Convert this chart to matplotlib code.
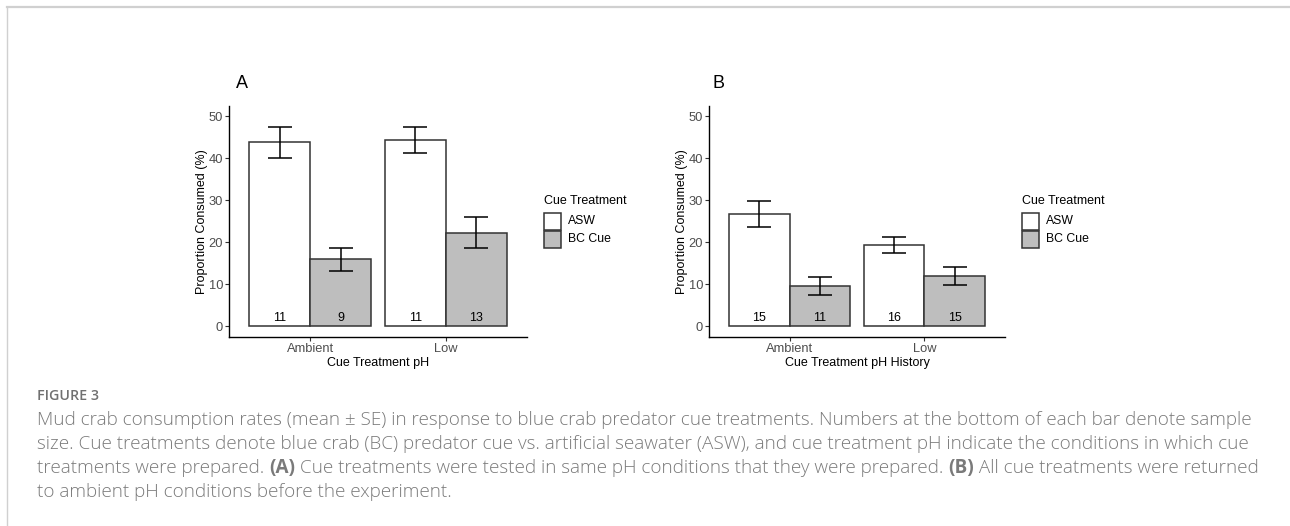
import matplotlib
matplotlib.use("Agg")
import matplotlib.pyplot as plt
from matplotlib.patches import Rectangle
from matplotlib.lines import Line2D
import numpy as np

# data
groups = ["Ambient", "Low"]
treatments = ["ASW", "BC Cue"]
colors = ["white", "#BEBEBE"]

mean_a = [[43.8, 44.3], [15.9, 22.2]]
se_a = [[3.7, 3.2], [2.8, 3.7]]
n_a = [[11, 11], [9, 13]]

mean_b = [[26.6, 19.4], [9.6, 12.0]]
se_b = [[3.1, 1.9], [2.1, 2.1]]
n_b = [[15, 16], [11, 15]]

W, H = 1290, 526
fig = plt.figure(figsize=(W / 100, H / 100), dpi=100)
plt.rcParams['font.family'] = ['Liberation Sans', 'DejaVu Sans']


def px_axes(x0, y0, x1, y1):
    return fig.add_axes([x0 / W, 1 - y1 / H, (x1 - x0) / W, (y1 - y0) / H])


def panel(ax, means, ses, ns, xlabel):
    x = np.arange(1, len(groups) + 1)
    bw = 0.45
    for i, t in enumerate(treatments):
        xs = x + (i - 0.5) * bw
        ax.bar(xs, means[i], width=bw, color=colors[i], edgecolor="#333333",
               linewidth=1.1, zorder=2)
        ax.errorbar(xs, means[i], yerr=ses[i], fmt="none", ecolor="black",
                    elinewidth=1.1, capsize=8.5, capthick=1.1, zorder=3)
        for xx, nn in zip(xs, ns[i]):
            ax.text(xx, 1.9, str(nn), ha="center", va="center", fontsize=9,
                    color="black", zorder=4)
    ax.set_xlim(0.4, 2.6)
    ax.set_ylim(-2.6, 52.4)
    ax.set_yticks([0, 10, 20, 30, 40, 50])
    ax.set_xticks(x)
    ax.set_xticklabels(groups)
    for s in ["top", "right"]:
        ax.spines[s].set_visible(False)
    for s in ["left", "bottom"]:
        ax.spines[s].set_linewidth(1.0)
        ax.spines[s].set_color("black")
    ax.tick_params(axis="both", length=3, width=0.8, color="#333333",
                   labelsize=9.3, labelcolor="#4D4D4D", pad=1.2)
    ax.set_ylabel("Proportion Consumed (%)", fontsize=9, color="black", labelpad=0.3)
    ax.set_xlabel(xlabel, fontsize=9, color="black", labelpad=1.5)


ax_a = px_axes(229, 106, 527, 337)
panel(ax_a, mean_a, se_a, n_a, "Cue Treatment pH")
ax_b = px_axes(709, 106, 1005, 337)
panel(ax_b, mean_b, se_b, n_b, "Cue Treatment pH History")

fig.text(242 / W, 1 - 83 / H, "A", fontsize=13, ha="center", va="center")
fig.text(718 / W, 1 - 83 / H, "B", fontsize=13, ha="center", va="center")


def legend(lx):
    # ggplot-style legend: title, then stacked 17px keys
    fig.text(lx / W, 1 - 201 / H, "Cue Treatment", fontsize=9, ha="left", va="center")
    for i, (lab, c) in enumerate(zip(treatments, colors)):
        top = 213 + 17.5 * i
        fig.add_artist(Rectangle((lx / W, 1 - (top + 17) / H), 17 / W, 17 / H,
                                 facecolor=c, edgecolor="#333333", lw=1.1,
                                 transform=fig.transFigure))
        fig.text((lx + 24) / W, 1 - (top + 8.5) / H, lab, fontsize=8.8,
                 ha="left", va="center")


legend(544)
legend(1022)

# page frame lines
fig.add_artist(Line2D([7 / W, 1], [1 - 7 / H, 1 - 7 / H], color="#D0D0D0", lw=1.6))
fig.add_artist(Line2D([7 / W, 7 / W], [0, 1 - 7 / H], color="#D0D0D0", lw=1.0))

cap_font = ['Open Sans', 'DejaVu Sans']
cap_color = "#7A7A7A"
cap_size = 13.6
cx = 37
fig.text(cx / W, 1 - 396 / H, "FIGURE 3", fontsize=10.3, color="#707070",
         family=cap_font, weight="semibold", va="center", ha="left")

lines = [
    [("Mud crab consumption rates (mean \u00b1 SE) in response to blue crab predator cue treatments. Numbers at the bottom of each bar denote sample", "light")],
    [("size. Cue treatments denote blue crab (BC) predator cue vs. artificial seawater (ASW), and cue treatment pH indicate the conditions in which cue", "light")],
    [("treatments were prepared. ", "light"), ("(A)", "bold"),
     (" Cue treatments were tested in same pH conditions that they were prepared. ", "light"),
     ("(B)", "bold"), (" All cue treatments were returned", "light")],
    [("to ambient pH conditions before the experiment.", "light")],
]
line_y = [420, 444, 468, 492]

renderer = fig.canvas.get_renderer()
for segs, yy in zip(lines, line_y):
    x = cx
    for txt, wt in segs:
        t = fig.text(x / W, 1 - yy / H, txt, fontsize=cap_size, color=cap_color,
                     family=cap_font, weight=wt, va="center", ha="left")
        bb = t.get_window_extent(renderer)
        x += bb.width

fig.savefig("out.png", dpi=100)
